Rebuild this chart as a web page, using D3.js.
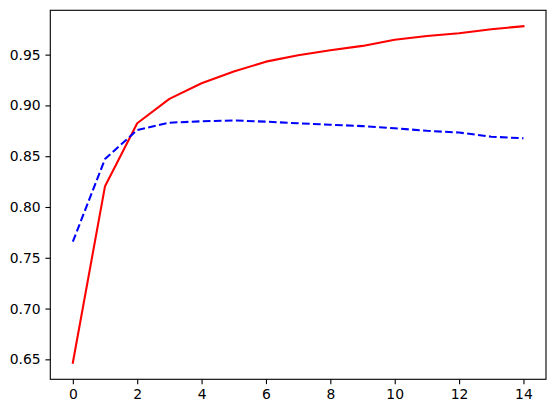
<!DOCTYPE html>
<html><head><meta charset="utf-8">
<script src="https://cdn.jsdelivr.net/npm/d3@7"></script>
<style>body{margin:0;background:#fff}svg{display:block}</style>
</head><body>
<script>
const epochs = [0,1,2,3,4,5,6,7,8,9,10,11,12,13,14];
const redSeries = [0.6467,0.8205,0.8824,0.9064,0.9218,0.9333,0.9431,0.9494,0.9543,0.9586,0.9647,0.9684,0.9711,0.9750,0.9780];
const blueSeries = [0.7658,0.8473,0.8758,0.8830,0.8844,0.8852,0.8840,0.8824,0.8810,0.8796,0.8775,0.8750,0.8733,0.8692,0.8676];
const xTicks = [0,2,4,6,8,10,12,14];
const yTicks = [0.65,0.70,0.75,0.80,0.85,0.90,0.95];

const W = 556, H = 413;
const L = 50.3, R = 546, T = 10.3, B = 379.3;
const svg = d3.select("body").append("svg").attr("width", W).attr("height", H);
const x = d3.scaleLinear().domain([-0.7, 14.7]).range([L, R]);
const y = d3.scaleLinear().domain([0.63035, 0.99365]).range([B, T]);

const font = "DejaVu Sans";
const tickLen = 4.86, pad = 4.86;

const line = d3.line().x((d,i)=>x(epochs[i])).y(d=>y(d));

svg.append("path").datum(redSeries).attr("d", line)
  .attr("fill","none").attr("stroke","#ff0000").attr("stroke-width",2.08)
  .attr("stroke-linecap","square").attr("stroke-linejoin","round");
svg.append("path").datum(blueSeries).attr("d", line)
  .attr("fill","none").attr("stroke","#0000ff").attr("stroke-width",2.08)
  .attr("stroke-dasharray","7.7,3.33").attr("stroke-linejoin","round");

const xAxis = svg.append("g").attr("transform",`translate(0,${B})`)
  .call(d3.axisBottom(x).tickValues(xTicks).tickFormat(d3.format("d")).tickSize(tickLen).tickPadding(pad));
const yAxis = svg.append("g").attr("transform",`translate(${L},0)`)
  .call(d3.axisLeft(y).tickValues(yTicks).tickFormat(d3.format(".2f")).tickSize(tickLen).tickPadding(pad));
[xAxis,yAxis].forEach(g=>{
  g.select(".domain").remove();
  g.selectAll(".tick line").attr("stroke","#000").attr("stroke-width",1.11);
  g.selectAll(".tick text").attr("fill","#000").style("font-family",font).style("font-size","13.9px");
});

svg.append("rect").attr("x",L).attr("y",T).attr("width",R-L).attr("height",B-T)
  .attr("fill","none").attr("stroke","#000").attr("stroke-width",1.11);
</script>
</body></html>
